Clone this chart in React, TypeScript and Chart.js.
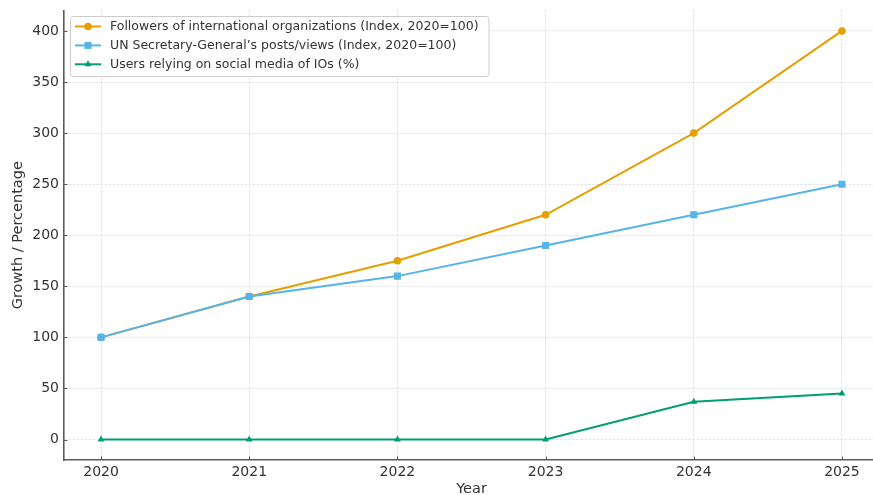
import { useEffect, useRef } from "react";
import { Chart, registerables } from "chart.js";
import { drawPoint } from "chart.js/helpers";

Chart.register(...registerables);

// ---- data ----
const YEARS = [2020, 2021, 2022, 2023, 2024, 2025];
const FOLLOWERS_INDEX = [100, 140, 175, 220, 300, 400];
const UN_SG_POSTS_INDEX = [100, 140, 160, 190, 220, 250];
const USERS_RELYING_PCT = [0, 0, 0, 0, 37, 45];
const Y_TICKS = [0, 50, 100, 150, 200, 250, 300, 350, 400];
const SERIES_LABELS = [
  "Followers of international organizations (Index, 2020=100)",
  "UN Secretary-General\u2019s posts/views (Index, 2020=100)",
  "Users relying on social media of IOs (%)",
];
const X_TITLE = "Year";
const Y_TITLE = "Growth / Percentage";

const FONT = "'DejaVu Sans', sans-serif";
const TEXT = "#333333";
const SPINE = "#5a5a5a";
const GRID = "#dcdcdc";

const points = (vals: number[]) => YEARS.map((x, i) => ({ x, y: vals[i] }));

// Short tick marks pointing into the plot from the left and bottom axes
const inwardTicks = {
  id: "inwardTicks",
  afterDatasetsDraw(chart: any) {
    const { ctx, chartArea, scales } = chart;
    const len = 3.5;
    ctx.save();
    ctx.strokeStyle = SPINE;
    ctx.lineWidth = 1;
    ctx.beginPath();
    scales.y.ticks.forEach((t: any) => {
      const y = Math.round(scales.y.getPixelForValue(t.value)) + 0.5;
      ctx.moveTo(chartArea.left, y);
      ctx.lineTo(chartArea.left + len, y);
    });
    scales.x.ticks.forEach((t: any) => {
      const x = Math.round(scales.x.getPixelForValue(t.value)) + 0.5;
      ctx.moveTo(x, chartArea.bottom);
      ctx.lineTo(x, chartArea.bottom - len);
    });
    ctx.stroke();
    ctx.restore();
  },
};

// Legend drawn inside the plot's upper-left corner
const insideLegend = {
  id: "insideLegend",
  afterDatasetsDraw(chart: any) {
    const { ctx, chartArea } = chart;
    const sets = chart.data.datasets;
    ctx.save();
    ctx.font = `12.5px ${FONT}`;
    const x0 = chartArea.left + 6;
    const y0 = chartArea.top + 5.5;
    const rowH = 18.9;
    const maxW = Math.max(...sets.map((d: any) => ctx.measureText(d.label).width));
    const w = 40 + maxW + 10;
    const h = 60;
    ctx.beginPath();
    ctx.roundRect(x0 + 0.5, y0 + 0.5, w, h, 3);
    ctx.fillStyle = "rgba(255,255,255,0.85)";
    ctx.fill();
    ctx.strokeStyle = "#cccccc";
    ctx.lineWidth = 1;
    ctx.stroke();
    sets.forEach((d: any, i: number) => {
      const cy = y0 + 10.5 + i * rowH;
      ctx.strokeStyle = d.borderColor;
      ctx.lineWidth = 2;
      ctx.beginPath();
      ctx.moveTo(x0 + 5, cy);
      ctx.lineTo(x0 + 31, cy);
      ctx.stroke();
      ctx.fillStyle = d.pointBackgroundColor;
      ctx.strokeStyle = d.pointBorderColor;
      drawPoint(
        ctx,
        { pointStyle: d.pointStyle, radius: d.pointRadius, rotation: 0, borderWidth: 0 },
        x0 + 18,
        cy
      );
      ctx.fillStyle = TEXT;
      ctx.textAlign = "left";
      ctx.textBaseline = "middle";
      ctx.fillText(d.label, x0 + 40, cy + 0.5);
    });
    ctx.restore();
  },
};

export default function App() {
  const ref = useRef<HTMLCanvasElement | null>(null);

  useEffect(() => {
    if (!ref.current) return;
    // lower "order" is painted later, so the first series sits underneath
    const mk = (
      label: string,
      vals: number[],
      color: string,
      style: string,
      r: number,
      order: number
    ) => ({
      label,
      data: points(vals),
      order,
      borderColor: color,
      backgroundColor: color,
      pointBackgroundColor: color,
      pointBorderColor: color,
      pointStyle: style,
      pointRadius: r,
      pointBorderWidth: 0,
      borderWidth: 2,
      tension: 0,
      fill: false,
    });

    const chart = new Chart(ref.current, {
      type: "line",
      data: {
        datasets: [
          mk(SERIES_LABELS[0], FOLLOWERS_INDEX, "#E69F00", "circle", 3.8, 3),
          mk(SERIES_LABELS[1], UN_SG_POSTS_INDEX, "#56B4E9", "rect", 5, 2),
          mk(SERIES_LABELS[2], USERS_RELYING_PCT, "#009E73", "triangle", 4, 1),
        ] as any,
      },
      options: {
        animation: false,
        responsive: false,
        devicePixelRatio: 1,
        layout: { padding: { top: 10.5, right: 11, left: 0, bottom: 0 } },
        plugins: { legend: { display: false }, tooltip: { enabled: false } },
        scales: {
          x: {
            type: "linear",
            min: 2019.75,
            max: 2025.25,
            afterBuildTicks: (s: any) => {
              s.ticks = YEARS.map((v) => ({ value: v }));
            },
            afterFit: (s: any) => {
              s.height = 40;
              s.paddingLeft = 0;
              s.paddingRight = 0;
            },
            ticks: {
              callback: (v: any) => String(v),
              font: { family: FONT, size: 14 },
              color: TEXT,
              padding: 4,
              maxRotation: 0,
              autoSkip: false,
            },
            grid: {
              color: GRID,
              lineWidth: 1,
              drawTicks: false,
            },
            border: { color: SPINE, width: 1.6, dash: [2, 2] },
            title: {
              display: true,
              text: X_TITLE,
              font: { family: FONT, size: 14.5 },
              color: TEXT,
              padding: { top: 0, bottom: 2 },
            },
          },
          y: {
            type: "linear",
            min: -20,
            max: 420,
            afterBuildTicks: (s: any) => {
              s.ticks = Y_TICKS.map((v) => ({ value: v }));
            },
            afterFit: (s: any) => {
              s.width = 64;
              s.paddingTop = 0;
              s.paddingBottom = 0;
            },
            ticks: {
              font: { family: FONT, size: 14 },
              color: TEXT,
              padding: 5,
              autoSkip: false,
            },
            grid: {
              color: GRID,
              lineWidth: 1,
              drawTicks: false,
            },
            border: { color: SPINE, width: 1.6, dash: [2, 2] },
            title: {
              display: true,
              text: Y_TITLE,
              font: { family: FONT, size: 14.5 },
              color: TEXT,
              padding: { top: 9.5, bottom: 0 },
            },
          },
        },
      },
      plugins: [inwardTicks, insideLegend],
    });
    return () => chart.destroy();
  }, []);

  return (
    <div
      style={{
        position: "fixed",
        left: 0,
        top: 0,
        width: 873,
        height: 495,
        overflow: "hidden",
        background: "#ffffff",
      }}
    >
      <canvas ref={ref} width={890} height={500} style={{ display: "block" }} />
    </div>
  );
}
